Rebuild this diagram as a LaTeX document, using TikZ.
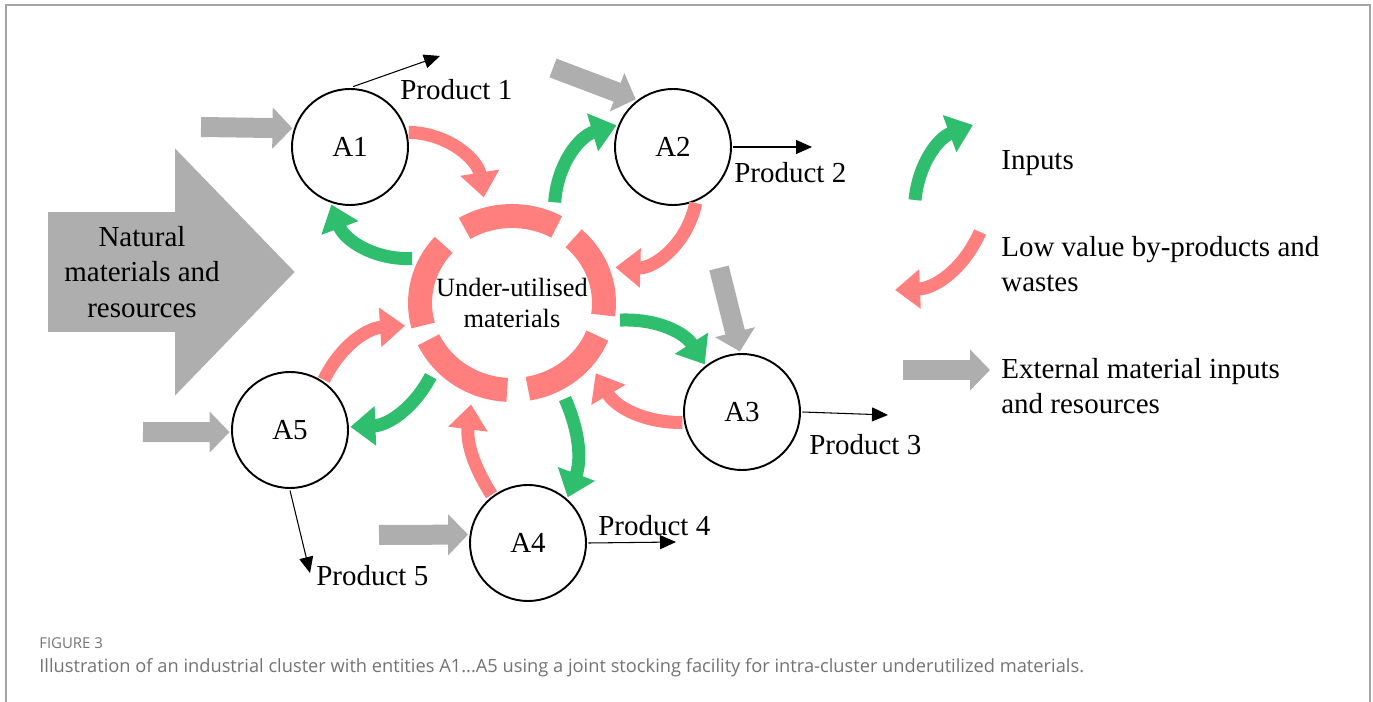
\documentclass[tikz,border=0pt]{standalone}
\usepackage{fontspec}
\setmainfont{Liberation Serif}
\newfontfamily\capfont{Open Sans}
\usetikzlibrary{arrows.meta}
\definecolor{inputgreen}{RGB}{46,190,110}
\definecolor{wastepink}{RGB}{255,127,127}
\definecolor{extgray}{RGB}{174,174,174}
\definecolor{framegray}{RGB}{165,165,165}
\definecolor{capgray}{RGB}{115,115,115}
\tikzset{
  txt/.style={inner sep=0pt, font=\fontsize{16.5}{20.1}\selectfont},
  entity/.style={draw, circle, minimum size=2.32cm, inner sep=0pt, outer sep=0.05cm, line width=1.1pt, font=\fontsize{16.5}{20.1}\selectfont},
  inputarrow/.style={draw=inputgreen, line width=0.26cm, -{Triangle[width=0.76cm,length=0.5cm]}},
  wastearrow/.style={draw=wastepink, line width=0.26cm, -{Triangle[width=0.76cm,length=0.5cm]}},
  extarrow/.style={draw=extgray, line width=0.4cm, -{Triangle[width=0.8cm,length=0.4cm]}},
  productarrow/.style={line width=0.6pt, -{Triangle[width=0.28cm,length=0.32cm]}}
}
\begin{document}
\begin{tikzpicture}[x=0.02cm,y=-0.02cm]
  \useasboundingbox (0,0) rectangle (1373,702);
  \draw[framegray, line width=0.04cm] (6,720) -- (6,5) -- (1370,5) -- (1370,720);

  % natural resources
  \draw[extgray, line width=2.42cm, -{Triangle[width=4.8cm,length=2.4cm]}] (48,272) -- (295,272);
  \node[txt, align=center] (natural) at (142,272) {Natural\\materials and\\resources};

  % entities and the joint stock
  \node[entity] (A1) at (350,147) {A1};
  \node[entity] (A2) at (673,147) {A2};
  \node[entity] (A3) at (742,412) {A3};
  \node[entity] (A4) at (528,543) {A4};
  \node[entity] (A5) at (290,430) {A5};
  \node[circle, minimum size=4.36cm, inner sep=0pt, align=center, font=\fontsize{15}{18.1}\selectfont] (pool) at (512,303) {Under-utilised\\materials};
  \foreach \a/\b in {-121/-61, -48/8, 22/80, 93/155, 165/222}
    \draw[wastepink, line width=0.48cm] (pool.center) ++(\a:92 and 87) arc[start angle=\a, end angle=\b, x radius=92, y radius=87];

  % by-products and inputs
  \draw[wastearrow] (A1.14) to[bend left=40] (pool.105);
  \draw[inputarrow] (pool.67) to[bend left=35] (A2.159);
  \draw[inputarrow] (pool.156) to[bend left=36] (A1.-108);
  \draw[wastearrow] (A2.-68) to[bend left=40] (pool.19);
  \draw[inputarrow] (pool.-9) to[bend left=30] (A3.128);
  \draw[wastearrow] (A3.-170) to[bend left=30] (pool.-40);
  \draw[inputarrow] (pool.-61) to[bend left=22] (A4.49);
  \draw[wastearrow] (A4.127) to[bend left=20] (pool.-112);
  \draw[inputarrow] (pool.-138) to[bend left=30] (A5.3);
  \draw[wastearrow] (A5.56) to[bend left=30] (pool.-168);

  % external inputs
  \coordinate (e1) at (201,127);
  \coordinate (e2) at (553,68);
  \coordinate (e3) at (719,268);
  \coordinate (e4) at (379,535);
  \coordinate (e5) at (143,432);
  \draw[extarrow] (e1) -- (A1.162);
  \draw[extarrow] (e2) -- (A2.128);
  \draw[extarrow] (e3) -- (A3.92);
  \draw[extarrow] (e4) -- (A4.172);
  \draw[extarrow] (e5) -- (A5.182);

  % products
  \coordinate (p1) at (440,56);
  \coordinate (p2) at (812,147);
  \coordinate (p3) at (888,415);
  \coordinate (p4) at (676,542);
  \coordinate (p5) at (310,573);
  \draw[productarrow] (A1.87) -- (p1);
  \draw[productarrow] (A2.east) -- (p2);
  \draw[productarrow] (A3.east) -- (p3);
  \draw[productarrow] (A4.east) -- (p4);
  \draw[productarrow] (A5.south) -- (p5);
  \node[txt, anchor=base west] (prod1) at (400,100) {Product 1};
  \node[txt, anchor=base west] (prod2) at (734,183) {Product 2};
  \node[txt, anchor=base west] (prod3) at (809,455) {Product 3};
  \node[txt, anchor=base west] (prod4) at (598,535) {Product 4};
  \node[txt, anchor=base west] (prod5) at (316,585) {Product 5};

  % legend
  \coordinate (lg1) at (915,200);
  \coordinate (lg2) at (973,125);
  \coordinate (lw1) at (980,232);
  \coordinate (lw2) at (895,290);
  \coordinate (le1) at (903,370);
  \coordinate (le2) at (990,370);
  \draw[inputarrow] (lg1) to[bend left=32] (lg2);
  \draw[wastearrow] (lw1) to[bend left=32] (lw2);
  \draw[extarrow] (le1) -- (le2);
  \node[txt, anchor=base west] (leginputs) at (1001,170) {Inputs};
  \node[txt, anchor=base west, align=left] (legwaste) at (1001,292) {Low value by-products and\\wastes};
  \node[txt, anchor=base west, align=left] (legext) at (1001,414) {External material inputs\\and resources};

  % caption
  \node[anchor=base west, inner sep=0pt, text=capgray, font=\capfont\fontsize{8.5}{10}\selectfont] (fignum) at (39,648) {FIGURE 3};
  \node[anchor=base west, inner sep=0pt, text=capgray, font=\capfont\fontsize{10.4}{12.5}\selectfont] (figcap) at (39,672) {Illustration of an industrial cluster with entities A1...A5 using a joint stocking facility for intra-cluster underutilized materials.};
\end{tikzpicture}
\end{document}
